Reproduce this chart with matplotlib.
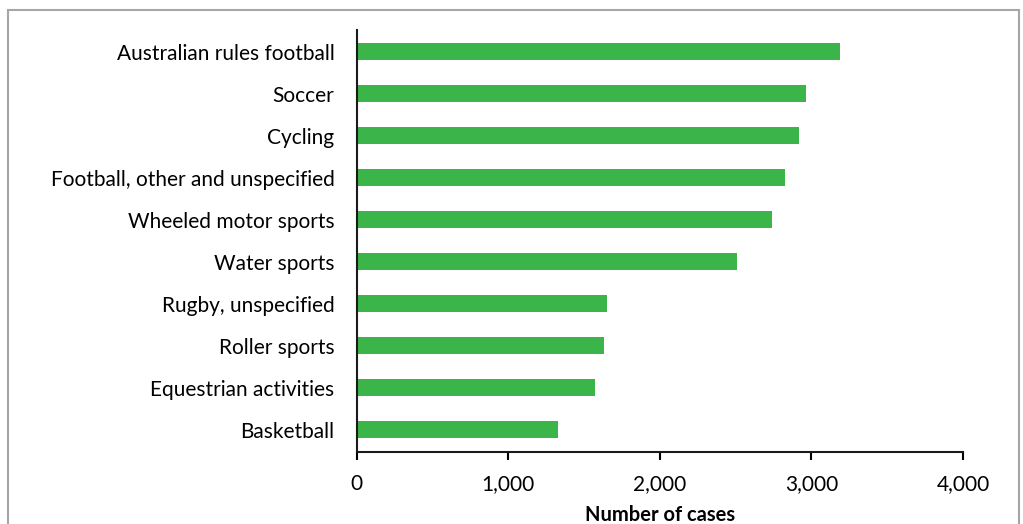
import matplotlib.pyplot as plt
from matplotlib.patches import Rectangle
from matplotlib.ticker import FuncFormatter

# Datos (de arriba hacia abajo)
deportes = [
    "Australian rules football",
    "Soccer",
    "Cycling",
    "Football, other and unspecified",
    "Wheeled motor sports",
    "Water sports",
    "Rugby, unspecified",
    "Roller sports",
    "Equestrian activities",
    "Basketball",
]
casos = [3188, 2964, 2918, 2825, 2740, 2509, 1651, 1631, 1572, 1328]
ticks_x = [0, 1000, 2000, 3000, 4000]

plt.rcParams["font.family"] = ["Lato", "DejaVu Sans"]

fig = plt.figure(figsize=(10.23, 5.24), dpi=100)
ax = fig.add_axes([0.3487, 0.138, 0.5926, 0.8047])

# Marco gris alrededor del gráfico
fig.patches.append(
    Rectangle((8 / 1023, -0.05), 1011 / 1023, 1.05 - 10 / 524,
              transform=fig.transFigure, fill=False,
              edgecolor="#a6a6a6", linewidth=1.5)
)

pos = list(range(len(deportes)))
ax.barh(pos, casos, height=0.4, color="#3bb54a")

ax.set_xlim(0, 4000)
ax.set_ylim(9.52, -0.52)
ax.set_xticks(ticks_x)
ax.xaxis.set_major_formatter(FuncFormatter(lambda v, p: f"{int(v):,}"))
ax.set_yticks(pos)
ax.set_yticklabels(deportes)

for s in ["top", "right"]:
    ax.spines[s].set_visible(False)
for s in ["left", "bottom"]:
    ax.spines[s].set_linewidth(1.5)
    ax.spines[s].set_color("#1a1a1a")

ax.tick_params(axis="y", length=0, pad=16, labelsize=15)
ax.tick_params(axis="x", direction="out", length=6, width=1.5, pad=10, labelsize=15)

ax.set_xlabel("Number of cases", fontsize=14.5, fontweight="bold", labelpad=8)

fig.savefig("out.png", dpi=100)
